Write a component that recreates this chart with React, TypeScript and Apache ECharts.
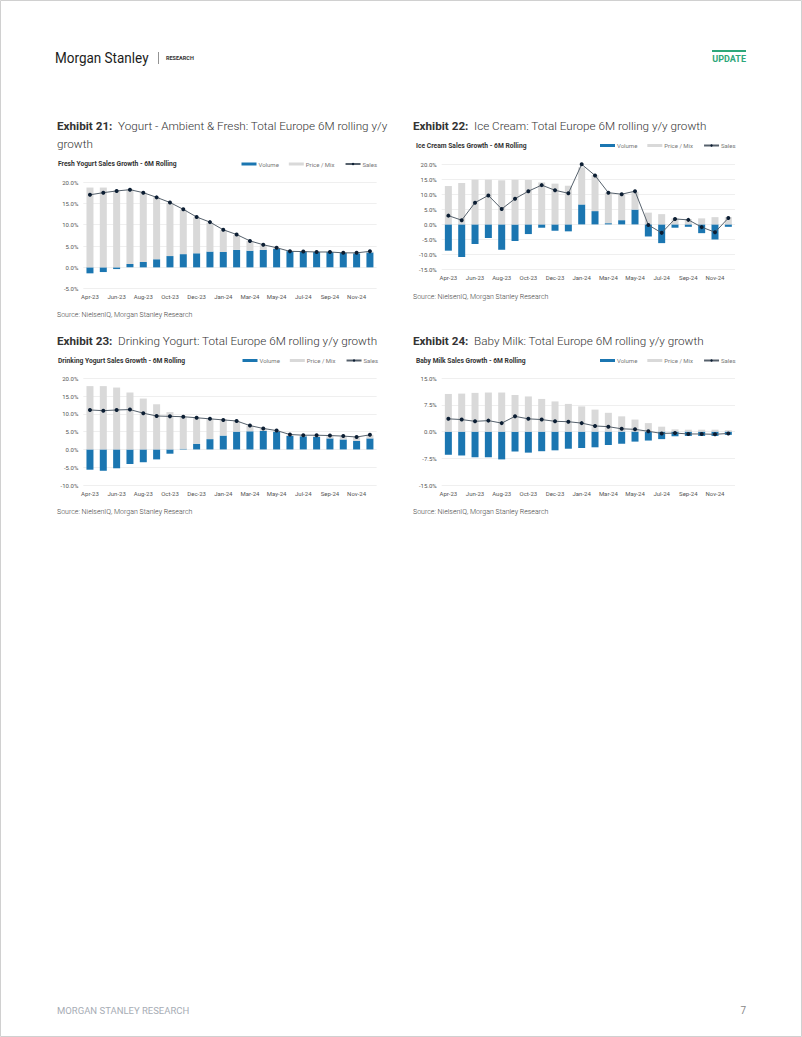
import React, { useEffect, useRef } from "react";
import * as echarts from "echarts";

const categories = [
  "Apr-23", "May-23", "Jun-23", "Jul-23", "Aug-23", "Sep-23", "Oct-23", "Nov-23", "Dec-23", "Dec-23",
  "Jan-24", "Feb-24", "Mar-24", "Apr-24", "May-24", "Jun-24", "Jul-24", "Aug-24", "Sep-24", "Oct-24", "Nov-24", "Dec-24",
];

// Exhibit 21 - Fresh Yogurt
const volume1 = [-1.4, -1.1, -0.4, 0.8, 1.25, 1.9, 2.65, 3.1, 3.3, 3.7, 3.6, 4.1, 3.9, 4.1, 4.3, 3.8, 3.7, 3.6, 3.6, 3.4, 3.3, 3.5];
const priceMix1 = [18.7, 18.7, 18.0, 17.5, 16.25, 14.5, 12.5, 10.4, 8.4, 6.8, 5.1, 3.5, 2.3, 1.1, 0.3, 0, 0, -0.1, -0.1, 0, 0.1, 0.2];
const sales1 = [17.0, 17.5, 17.9, 18.2, 17.5, 16.4, 15.2, 13.6, 11.8, 10.6, 8.8, 7.7, 6.2, 5.3, 4.6, 3.75, 3.7, 3.6, 3.6, 3.4, 3.4, 3.75];

// Exhibit 22 - Ice Cream
const volume2 = [-8.7, -10.8, -6.5, -4.5, -8.4, -5.5, -3.2, -1.1, -2.1, -2.3, 6.6, 4.4, 0.4, 1.4, 4.9, -4.0, -6.2, -1.1, -0.8, -2.9, -5.0, -0.8];
const priceMix2 = [12.7, 13.7, 14.8, 14.8, 14.6, 14.8, 14.7, 13.9, 13.5, 12.8, 12.3, 11.9, 10.1, 8.5, 5.9, 3.9, 3.4, 2.0, 1.8, 2.0, 2.4, 2.4];
const sales2 = [2.9, 1.4, 7.2, 9.6, 5.1, 8.5, 11.0, 13.0, 11.3, 10.3, 19.9, 16.2, 10.5, 10.0, 11.0, -0.2, -2.8, 1.8, 1.5, -0.9, -2.6, 2.1];

// Exhibit 23 - Drinking Yogurt
const volume3 = [-5.7, -6.0, -5.3, -4.1, -3.6, -2.8, -1.2, 0.2, 1.6, 2.9, 3.9, 5.0, 5.1, 5.2, 5.0, 3.8, 3.7, 3.5, 3.1, 2.8, 2.4, 3.1];
const priceMix3 = [17.8, 17.8, 17.4, 16.0, 14.3, 12.7, 10.5, 9.0, 7.4, 5.8, 4.6, 3.0, 1.6, 0.7, 0.3, 0.4, 0.3, 0.5, 0.8, 0.9, 1.1, 1.0];
const sales3 = [11.1, 10.9, 11.1, 11.2, 10.2, 9.4, 9.3, 9.2, 8.9, 8.6, 8.3, 8.0, 6.7, 5.9, 5.3, 4.2, 4.0, 4.0, 3.9, 3.75, 3.5, 4.1];

// Exhibit 24 - Baby Milk
const volume4 = [-6.5, -6.7, -7.2, -7.2, -7.8, -5.6, -5.9, -5.5, -5.25, -4.8, -4.6, -4.4, -3.75, -3.4, -2.8, -2.5, -2.1, -1.3, -1.2, -1.2, -1.2, -0.9];
const priceMix4 = [10.6, 10.7, 10.9, 11.0, 11.0, 10.3, 9.9, 9.2, 8.5, 7.8, 7.1, 6.2, 5.3, 4.3, 3.4, 2.4, 1.4, 0.65, 0.55, 0.55, 0.55, 0.4];
const sales4 = [3.6, 3.4, 2.9, 3.1, 2.4, 4.3, 3.6, 3.4, 2.9, 2.8, 2.4, 1.6, 1.4, 0.8, 0.65, 0.1, -0.5, -0.4, -0.65, -0.65, -0.75, -0.5];

const BLUE = "#1b76b1";
const GREY = "#d9d9d9";
const NAVY = "#0c1e33";
const LINE = "#56616c";
const FONT = "Roboto";

type Panel = {
  left: number; top: number; width: number; height: number;
  min: number; max: number; interval: number;
  vol: number[]; pm: number[]; sales: number[];
  legendLeft: number; legendTop: number;
};

const panels: Panel[] = [
  { left: 83.3, top: 182, width: 293.3, height: 106.7, min: -5, max: 20, interval: 5, vol: volume1, pm: priceMix1, sales: sales1, legendLeft: 241.5, legendTop: 161 },
  { left: 441.7, top: 164, width: 293.3, height: 105.7, min: -15, max: 20, interval: 5, vol: volume2, pm: priceMix2, sales: sales2, legendLeft: 600, legendTop: 142.5 },
  { left: 83.3, top: 378.3, width: 293.3, height: 106.7, min: -10, max: 20, interval: 5, vol: volume3, pm: priceMix3, sales: sales3, legendLeft: 242.5, legendTop: 357.5 },
  { left: 441.7, top: 378.3, width: 293.3, height: 106.7, min: -15, max: 15, interval: 7.5, vol: volume4, pm: priceMix4, sales: sales4, legendLeft: 600, legendTop: 357.5 },
];

const chartTitles = [
  { x: 58, y: 163, text: "Fresh Yogurt Sales Growth - 6M Rolling" },
  { x: 416, y: 145, text: "Ice Cream Sales Growth - 6M Rolling" },
  { x: 58, y: 360, text: "Drinking Yogurt Sales Growth - 6M Rolling" },
  { x: 416, y: 360, text: "Baby Milk Sales Growth - 6M Rolling" },
];

const exhibits = [
  { x: 57, y: 126, num: "Exhibit 21:", text: "Yogurt - Ambient & Fresh: Total Europe 6M rolling y/y", line2: "growth" },
  { x: 413, y: 126, num: "Exhibit 22:", text: "Ice Cream: Total Europe 6M rolling y/y growth", line2: "" },
  { x: 57, y: 341, num: "Exhibit 23:", text: "Drinking Yogurt: Total Europe 6M rolling y/y growth", line2: "" },
  { x: 413, y: 341, num: "Exhibit 24:", text: "Baby Milk: Total Europe 6M rolling y/y growth", line2: "" },
];

const sources = [
  { x: 57, y: 315 },
  { x: 413, y: 297 },
  { x: 57, y: 512 },
  { x: 413, y: 512 },
];

function buildOption() {
  const grid: any[] = [];
  const xAxis: any[] = [];
  const yAxis: any[] = [];
  const series: any[] = [];
  const legend: any[] = [];

  panels.forEach((p, i) => {
    grid.push({ left: p.left, top: p.top, width: p.width, height: p.height });
    xAxis.push({
      type: "category",
      gridIndex: i,
      data: categories,
      axisLine: { show: false },
      axisTick: { show: false },
      axisLabel: { interval: 1, fontSize: 6, color: "#555", fontFamily: FONT, margin: 5 },
      splitLine: { show: false },
    });
    yAxis.push({
      type: "value",
      gridIndex: i,
      min: p.min,
      max: p.max,
      interval: p.interval,
      axisLine: { show: false },
      axisTick: { show: false },
      axisLabel: {
        fontSize: 6,
        color: "#555",
        fontFamily: FONT,
        margin: 5,
        formatter: (v: number) => v.toFixed(1) + "%",
      },
      splitLine: { show: true, lineStyle: { color: "#efefef", width: 1 } },
    });
    series.push({
      name: "Volume",
      type: "bar",
      xAxisIndex: i,
      yAxisIndex: i,
      stack: "s" + i,
      barWidth: 7,
      itemStyle: { color: BLUE },
      data: p.vol,
    });
    series.push({
      name: "Price / Mix",
      type: "bar",
      xAxisIndex: i,
      yAxisIndex: i,
      stack: "s" + i,
      barWidth: 7,
      itemStyle: { color: GREY },
      data: p.pm,
    });
    series.push({
      name: "Sales",
      type: "line",
      xAxisIndex: i,
      yAxisIndex: i,
      symbol: "circle",
      symbolSize: 4,
      lineStyle: { color: LINE, width: 1 },
      itemStyle: { color: NAVY },
      data: p.sales,
      z: 5,
    });
    legend.push({
      left: p.legendLeft,
      top: p.legendTop,
      itemWidth: 15,
      itemHeight: 3,
      itemGap: 10,
      padding: 0,
      textStyle: { fontSize: 6, color: "#777", fontFamily: FONT, padding: [0, 0, 0, -3] },
      data: [
        { name: "Volume", icon: "rect" },
        { name: "Price / Mix", icon: "rect" },
        { name: "Sales" },
      ],
      selectedMode: false,
    });
  });

  const graphic: any[] = [];
  graphic.push({
    type: "rect",
    shape: { x: 0.5, y: 0.5, width: 801, height: 1036 },
    style: { fill: "none", stroke: "#d0d0d0", lineWidth: 1 },
    silent: true,
  });
  graphic.push({
    type: "text", x: 55, y: 58, scaleX: 0.9,
    style: { text: "Morgan Stanley", fontSize: 15, fontFamily: FONT, fontWeight: 400, fill: "#1c1c1c", verticalAlign: "middle" },
  });
  graphic.push({
    type: "line", shape: { x1: 158.5, y1: 52, x2: 158.5, y2: 64 }, style: { stroke: "#777", lineWidth: 0.8 },
  });
  graphic.push({
    type: "text", x: 166, y: 58,
    style: { text: "RESEARCH", fontSize: 5.5, fontFamily: FONT, fontWeight: 700, fill: "#333", verticalAlign: "middle" },
  });
  graphic.push({
    type: "rect", shape: { x: 712, y: 50, width: 34, height: 2 }, style: { fill: "#2ea77a" },
  });
  graphic.push({
    type: "text", x: 746, y: 59,
    style: { text: "UPDATE", fontSize: 9, fontFamily: FONT, fontWeight: 700, fill: "#2ea77a", verticalAlign: "middle", align: "right" },
  });
  graphic.push({
    type: "text", x: 57, y: 1010,
    style: { text: "MORGAN STANLEY RESEARCH", fontSize: 9.5, fontFamily: FONT, fontWeight: 400, fill: "#a7adb5", verticalAlign: "middle" },
  });
  graphic.push({
    type: "text", x: 746, y: 1010,
    style: { text: "7", fontSize: 10, fontFamily: FONT, fill: "#888", verticalAlign: "middle", align: "right" },
  });
  exhibits.forEach((e) => {
    graphic.push({
      type: "text", x: e.x, y: e.y,
      style: {
        text: "{b|" + e.num + "}{r|  " + e.text + "}",
        verticalAlign: "middle",
        rich: {
          b: { fontSize: 11.7, fontWeight: 700, fontFamily: FONT, fill: "#333" },
          r: { fontSize: 11.7, fontWeight: 300, fontFamily: FONT, fill: "#333" },
        },
      },
    });
    if (e.line2) {
      graphic.push({
        type: "text", x: e.x, y: e.y + 18,
        style: { text: e.line2, fontSize: 11.7, fontWeight: 300, fontFamily: FONT, fill: "#333", verticalAlign: "middle" },
      });
    }
  });
  chartTitles.forEach((t) => {
    graphic.push({
      type: "text", x: t.x, y: t.y, scaleX: 0.84,
      style: { text: t.text, fontSize: 8, fontWeight: 700, fontFamily: FONT, fill: "#333", verticalAlign: "middle" },
    });
  });
  sources.forEach((s) => {
    graphic.push({
      type: "text", x: s.x, y: s.y,
      style: { text: "Source: NielsenIQ, Morgan Stanley Research", fontSize: 7, fontWeight: 300, fontFamily: FONT, fill: "#444", verticalAlign: "middle" },
    });
  });

  return {
    animation: false,
    backgroundColor: "#ffffff",
    textStyle: { fontFamily: FONT },
    grid,
    xAxis,
    yAxis,
    series,
    legend,
    graphic,
  };
}

export default function App() {
  const ref = useRef<HTMLDivElement>(null);
  useEffect(() => {
    if (!ref.current) return;
    const chart = echarts.init(ref.current, undefined, { renderer: "svg" });
    chart.setOption(buildOption() as any);
    return () => chart.dispose();
  }, []);
  return (
    <div
      ref={ref}
      style={{ position: "absolute", left: 0, top: 0, width: 802, height: 1037, background: "#fff" }}
    />
  );
}
